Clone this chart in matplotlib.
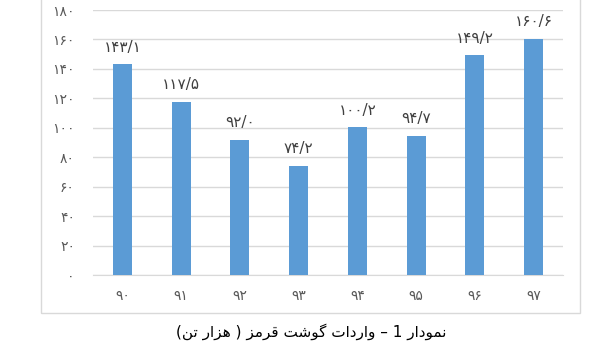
import matplotlib
matplotlib.use("Agg")
import matplotlib.pyplot as plt
from matplotlib.patches import Rectangle

years = ["۹۰", "۹۱", "۹۲", "۹۳", "۹۴", "۹۵", "۹۶", "۹۷"]
values = [143.1, 117.5, 92.0, 74.2, 100.2, 94.7, 149.2, 160.6]
value_labels = ["۱۴۳/۱", "۱۱۷/۵", "۹۲/۰", "۷۴/۲", "۱۰۰/۲", "۹۴/۷", "۱۴۹/۲", "۱۶۰/۶"]
yticks = [0, 20, 40, 60, 80, 100, 120, 140, 160, 180]
ytick_labels = ["۰", "۲۰", "۴۰", "۶۰", "۸۰", "۱۰۰", "۱۲۰", "۱۴۰", "۱۶۰", "۱۸۰"]
title = "نمودار 1 – واردات گوشت قرمز ( هزار تن)"

# minimal Arabic/Persian shaping: (isolated, final, initial, medial)
FORMS = {
    "ن": ("\uFEE5", "\uFEE6", "\uFEE7", "\uFEE8"),
    "م": ("\uFEE1", "\uFEE2", "\uFEE3", "\uFEE4"),
    "و": ("\uFEED", "\uFEEE", None, None),
    "د": ("\uFEA9", "\uFEAA", None, None),
    "ا": ("\uFE8D", "\uFE8E", None, None),
    "ر": ("\uFEAD", "\uFEAE", None, None),
    "ز": ("\uFEAF", "\uFEB0", None, None),
    "ت": ("\uFE95", "\uFE96", "\uFE97", "\uFE98"),
    "گ": ("\uFB92", "\uFB93", "\uFB94", "\uFB95"),
    "ش": ("\uFEB5", "\uFEB6", "\uFEB7", "\uFEB8"),
    "ق": ("\uFED5", "\uFED6", "\uFED7", "\uFED8"),
    "ه": ("\uFEE9", "\uFEEA", "\uFEEB", "\uFEEC"),
}

def shape(s):
    out = []
    n = len(s)
    for i, c in enumerate(s):
        if c not in FORMS:
            out.append(c)
            continue
        f = FORMS[c]
        prev = s[i - 1] if i > 0 else ""
        nxt = s[i + 1] if i + 1 < n else ""
        join_prev = prev in FORMS and FORMS[prev][2] is not None
        join_next = nxt in FORMS and f[2] is not None
        if join_prev and join_next:
            out.append(f[3])
        elif join_prev:
            out.append(f[1])
        elif join_next:
            out.append(f[2])
        else:
            out.append(f[0])
    vis = "".join(out)[::-1]
    vis = vis.translate(str.maketrans({"(": ")", ")": "("}))
    return vis

fig = plt.figure(figsize=(6.0, 3.61), dpi=100)
fig.patch.set_facecolor("white")

frame = Rectangle((41 / 600, 1 - 313 / 361), (580 - 41) / 600, 1.0,
                  transform=fig.transFigure, facecolor="none",
                  edgecolor="#d9d9d9", linewidth=1.0)
fig.patches.append(frame)

ax = fig.add_axes([93 / 600, 1 - 275 / 361, (563 - 93) / 600, (275 - 10) / 361])
x = list(range(len(years)))
bars = ax.bar(x, values, width=0.32, color="#5B9BD5", zorder=3)
ax.set_xlim(-0.5, len(years) - 0.5)
ax.set_ylim(0, 180)
ax.set_yticks(yticks)
ax.set_yticklabels(ytick_labels, family="DejaVu Sans", fontsize=10, color="#595959")
ax.set_xticks(x)
ax.set_xticklabels(years, family="DejaVu Sans", fontsize=10, color="#595959")
ax.tick_params(axis="both", length=0)
ax.tick_params(axis="y", pad=13)
ax.tick_params(axis="x", pad=10)
ax.grid(axis="y", color="#d9d9d9", linewidth=1.0, zorder=0)
for s in ["top", "right", "left"]:
    ax.spines[s].set_visible(False)
ax.spines["bottom"].set_color("#d9d9d9")

for xi, v, lab in zip(x, values, value_labels):
    ax.annotate(lab, (xi, v), xytext=(0, 7), textcoords="offset points",
                ha="center", va="bottom", fontsize=11, color="#404040",
                family="DejaVu Sans")

fig.text(0.518, 1 - 332 / 361, shape(title), ha="center", va="center",
         fontsize=11, color="black", family="DejaVu Sans")

fig.savefig("out.png", dpi=100, facecolor="white")
